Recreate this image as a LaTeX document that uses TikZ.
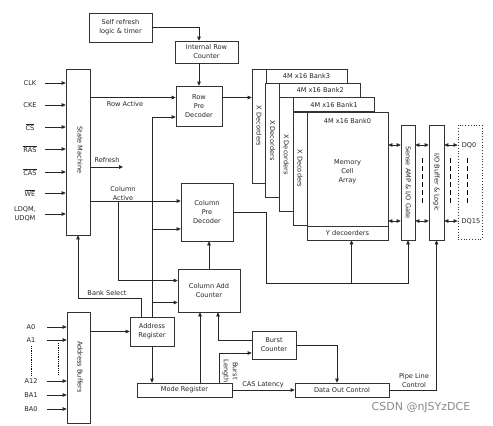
\documentclass[tikz,border=0pt]{standalone}
\usepackage{fontspec}
\setmainfont{DejaVu Sans}
\usetikzlibrary{arrows.meta,calc}
\tikzset{
  blk/.style={draw=black!80, fill=white, line width=0.7pt, align=center, inner sep=0pt},
  arr/.style={-{Triangle[length=4pt,width=3.6pt]}, line width=0.7pt, color=black!85},
  dbl/.style={{Triangle[length=4pt,width=3.6pt]}-{Triangle[length=4pt,width=3.6pt]}, line width=0.7pt, color=black!85},
  vtxt/.style={rotate=-90, inner sep=0pt, align=center},
  vdash/.style={line width=1pt, dash pattern=on 5pt off 3pt},
  adot/.style={line width=0.9pt, dash pattern=on 1pt off 0.8pt},
}

\begin{document}
\begin{tikzpicture}[x=1pt,y=-1pt, font=\fontsize{6.6}{9}\selectfont, text=black!85]
  \fill[white] (0,0) rectangle (493,426);
  \useasboundingbox (0,0) rectangle (493,426);

  % control blocks
  \node[blk, minimum width=63pt, minimum height=29pt] (selfref) at (120.5,27.5) {Self refresh\\logic \& timer};
  \node[blk, minimum width=63pt, minimum height=22pt] (irc) at (206.5,52) {Internal Row\\Counter};
  \node[blk, minimum width=46pt, minimum height=40pt] (rpd) at (199,106) {Row\\Pre\\Decoder};
  \node[blk, minimum width=24pt, minimum height=166pt] (sm) at (78,152) {};
  \node[vtxt] at (80,150) {State Machine};
  \node[blk, minimum width=52pt, minimum height=58pt] (cpd) at (207,212) {Column\\Pre\\Decoder};
  \node[blk, minimum width=62pt, minimum height=43pt] (cac) at (209,290.5) {Column Add\\Counter};
  \node[blk, minimum width=44pt, minimum height=29pt] (areg) at (152,331.5) {Address\\Register};
  \node[blk, minimum width=23pt, minimum height=111pt] (ab) at (78.5,367.5) {};
  \node[vtxt] at (80,367) {Address Buffers};
  \node[blk, minimum width=95pt, minimum height=14pt] (mreg) at (184.5,390) {Mode Register};
  \node[blk, minimum width=44pt, minimum height=28pt] (bc) at (274,345) {Burst\\Counter};
  \node[blk, minimum width=94pt, minimum height=14pt] (doc) at (342,390) {Data Out Control};

  % banks 3..1
  \foreach \i/\b in {0/3,1/2,2/1} {
    \pgfmathsetmacro\L{252+13.7*\i}
    \pgfmathsetmacro\T{69+14.3*\i}
    \pgfmathsetmacro\R{347+13.7*\i}
    \pgfmathsetmacro\B{183+14.2*\i}
    \pgfmathsetmacro\H{\B-\T}
    \draw[blk] (\L,\T) rectangle (\R,\B);
    \node[blk, minimum width=14pt, minimum height=\H pt] (xd\b) at (\L+7,{(\T+\B)/2}) {};
    \node[vtxt] at (xd\b) {X Decorders};
    \draw[line width=0.7pt, black!80] (\L+14,\T+14) -- (\R,\T+14);
    \node at ({(\L+14+\R)/2},\T+7) {4M x16 Bank\b};
  }
  % bank 0
  \node[blk, minimum width=14pt, minimum height=113pt] (xd0) at (300,168.5) {};
  \node[vtxt] at (xd0) {X Decoders};
  \node[blk, minimum width=81pt, minimum height=128pt] (bk0) at (347.5,176) {};
  \node at (347.5,121) {4M x16 Bank0};
  \node[align=center] (mca) at (347.5,172) {Memory\\Cell\\Array};
  \node[blk, minimum width=81pt, minimum height=14pt] (yd) at (347.5,233) {Y decoerders};

  \node[blk, minimum width=14pt, minimum height=115pt] (sa) at (408,182.5) {};
  \node[vtxt] at (sa) {Sense AMP \& I/O Gate};
  \node[blk, minimum width=15pt, minimum height=115pt] (iob) at (436.5,182.5) {};
  \node[vtxt] at (iob) {I/O Buffer \& Logic};
  \node[draw=black!80, dotted, line width=0.8pt, minimum width=24pt, minimum height=114pt] (dqb) at (470,182) {};
  \node (dq0) at (469,145) {DQ0};
  \node (dq15) at (471,221) {DQ15};

  \foreach \d in {dq0,dq15} {
    \draw[dbl] (bk0.east |- \d) -- (sa.west |- \d);
    \draw[dbl] (sa.east |- \d) -- (iob.west |- \d);
    \draw[dbl] (iob.east |- \d) -- (dqb.west |- \d);
  }
  \foreach \x in {422,450,467}
    \draw[vdash] (\x,158) -- (\x,205);

  % state machine inputs
  \foreach \y/\t/\n in {83/CLK/clk, 105/CKE/cke, 127/{$\overline{\mbox{CS}}$}/cs, 149/{$\overline{\mbox{RAS}}$}/ras, 172/{$\overline{\mbox{CAS}}$}/cas, 193/{$\overline{\mbox{WE}}$}/we}
    { \node (lb\n) at (30,\y) {\t}; \coordinate (in\n) at (45,\y); \draw[arr] (in\n) -- (sm.west |- in\n); }
  \node[align=center] (lbdqm) at (25,214) {LDQM,\\UDQM};
  \coordinate (indqm) at (45,214);
  \draw[arr] (indqm) -- (sm.west |- indqm);

  % address inputs
  \foreach \y/\t in {327/A0,340/A1,381/A12,395/BA1,409/BA0}
    { \node (lb\t) at (31,\y) {\t}; \coordinate (in\t) at (47,\y); \draw[arr] (in\t) -- (ab.west |- in\t); }
  \draw[adot] (31,346) -- (31,376);
  \draw[adot] (58,343) -- (58,375);

  % connections
  \draw[arr] (selfref.east) -| (rpd.north |- irc.north);
  \draw[arr] (irc.south -| rpd.north) -- (rpd.north);
  \draw[arr] (sm.east |- rpd.160) -- (rpd.160);
  \node (rowact) at (125,104) {Row Active};
  \draw[arr] (rpd.20) -- (rpd.20 -| xd3.west);
  \coordinate (refend) at (123,167);
  \draw[arr] (sm.east |- refend) -- (refend);
  \node (refl) at (107,160) {Refresh};
  \node[align=center] (colact) at (123,194) {Column\\Active};
  \draw[arr] (sm.east |- cpd.west) ++(0,-11) -- ([yshift=11pt]cpd.west);
  \coordinate (colbr) at (118,201);
  \draw[arr] (colbr) |- ([yshift=10pt]cac.west);
  \draw[arr] (areg.north) |- ([yshift=-11pt]rpd.west);
  \draw[arr] ([yshift=-17pt]cpd.west -| areg.north) -- ([yshift=-17pt]cpd.west);
  \draw[arr] (areg.north |- cac.west) ++(0,12) -- ([yshift=-12pt]cac.west);
  \draw[arr] (cac.north) -- (cac.north |- cpd.south);
  \draw[arr] (areg.south) -- (areg.south |- mreg.north);
  \draw[arr] (ab.east |- areg.west) -- (areg.west);
  \draw[arr] ([xshift=-11pt]areg.north) -- ++(0,-18) -| (sm.south);
  \node (bsel) at (107,293) {Bank Select};
  \coordinate (mrup) at ([xshift=-9pt]cac.south);
  \draw[arr] (mrup |- mreg.north) -- (mrup);
  \draw[arr] ([yshift=5pt]bc.west) -| ([xshift=9pt]cac.south);
  \draw[arr] ([xshift=34.5pt]mreg.north) |- ([yshift=-8pt]bc.west);
  \node[vtxt] (blen) at (230,371) {Burst\\Length};
  \draw[arr] (bc.east) -| ([xshift=-5pt]doc.north);
  \draw[arr] (mreg.east) -- (doc.west);
  \node (casl) at (263,385) {CAS Latency};
  \draw[arr] (doc.east) -| (iob.south);
  \node[align=center] (pipe) at (414,381) {Pipe Line\\Control};
  \coordinate (cbus) at (266,283);
  \draw[arr] (cpd.east) -| (cbus) -| (sa.south);
  \coordinate (ydin) at ([xshift=4pt]yd.south);
  \draw[arr] (ydin |- cbus) -- (ydin);

  \node[text=black!45, font=\fontsize{11}{13}\selectfont] (wm) at (421,408) {CSDN @nJSYzDCE};
\end{tikzpicture}
\end{document}
